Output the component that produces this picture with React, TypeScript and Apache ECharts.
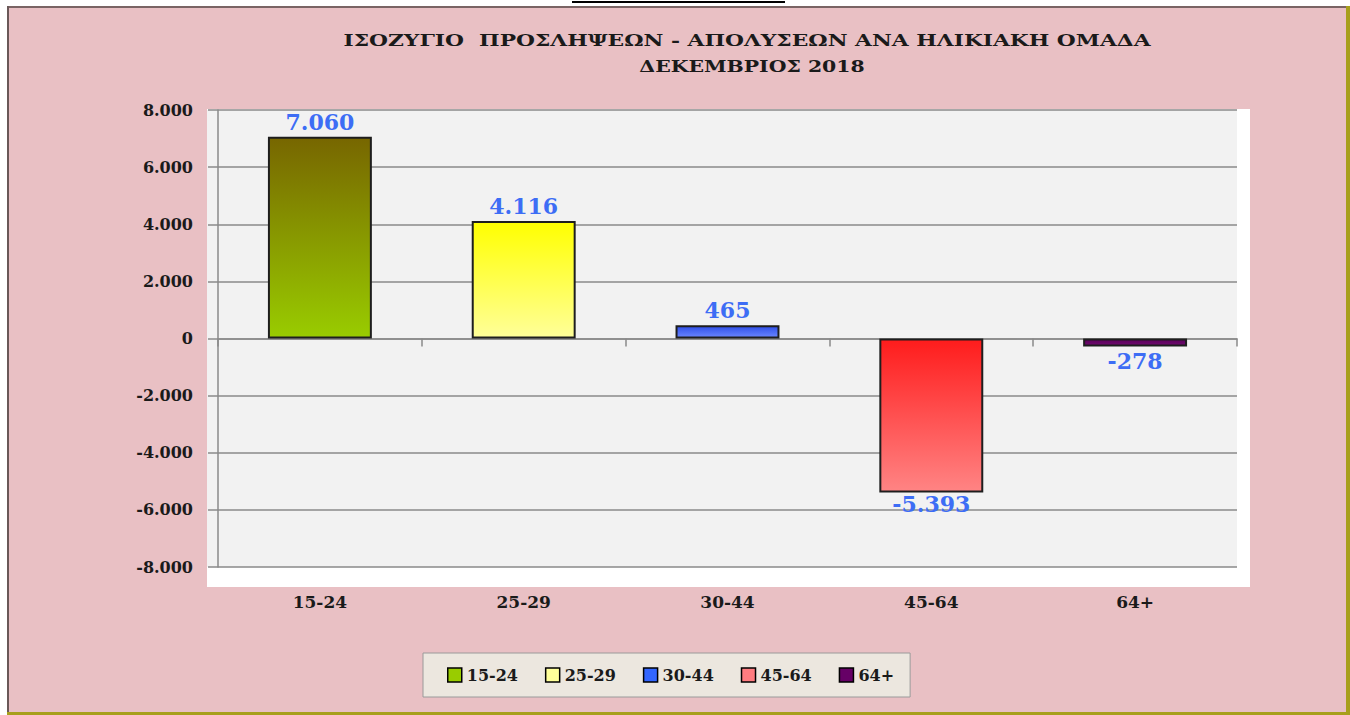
import React, { useEffect, useRef } from "react";
import * as echarts from "echarts";

const categories = ["15-24", "25-29", "30-44", "45-64", "64+"];
const values = [7060, 4116, 465, -5393, -278];
const yMin = -8000;
const yMax = 8000;
const yInterval = 2000;
const titleLine1 = "ΙΣΟΖΥΓΙΟ  ΠΡΟΣΛΗΨΕΩΝ - ΑΠΟΛΥΣΕΩΝ ΑΝΑ ΗΛΙΚΙΑΚΗ ΟΜΑΔΑ";
const titleLine2 = "ΔΕΚΕΜΒΡΙΟΣ 2018";
const barTopColors = ["#776600", "#ffff00", "#2f4fe8", "#ff1c1c", "#5a005a"];
const barBottomColors = ["#99cc00", "#ffff99", "#6a86ff", "#ff8484", "#6e0a6e"];
const legendColors = ["#99cc00", "#ffff99", "#3366ff", "#ff7c80", "#660066"];

const fmt = (v: number) => {
  const s = Math.abs(v).toString().replace(/\B(?=(\d{3})+(?!\d))/g, ".");
  return (v < 0 ? "-" : "") + s;
};

const FONT = "DejaVu Serif";
const GRID_TOP = 110;
const GRID_HEIGHT = 457;

export default function App() {
  const ref = useRef<HTMLDivElement>(null);
  useEffect(() => {
    if (!ref.current) return;
    const chart = echarts.init(ref.current, null, { renderer: "svg" });
    const series = categories.map((c, i) => ({
      name: c,
      type: "bar",
      stack: "all",
      barWidth: "51%",
      xAxisIndex: 0,
      data: values.map((v, j) =>
        j === i
          ? {
              value: v,
              label: {
                position: v >= 0 ? "top" : "bottom",
                distance: v < -1000 ? 0 : 4,
              },
            }
          : "-"
      ),
      itemStyle: {
        color: new echarts.graphic.LinearGradient(0, 0, 0, 1, [
          { offset: 0, color: barTopColors[i] },
          { offset: 1, color: barBottomColors[i] },
        ]),
        borderColor: "#1e1e1e",
        borderWidth: 2,
      },
      label: {
        show: true,
        formatter: (p: any) => fmt(p.value),
        color: "#3d6df5",
        fontFamily: FONT,
        fontWeight: "bold",
        fontSize: 22,
      },
    }));

    const zeroOffset = -(GRID_HEIGHT * (yMax - 0)) / (yMax - yMin);

    chart.setOption({
      animation: false,
      backgroundColor: "#ffffff",
      graphic: [
        { type: "line", z: -20, shape: { x1: 572, y1: 2, x2: 785, y2: 2 }, style: { stroke: "#000", lineWidth: 2 } },
        { type: "rect", z: -20, shape: { x: 8, y: 7, width: 1339, height: 706 }, style: { fill: "#e9c0c4" } },
        { type: "rect", z: -19, shape: { x: 8, y: 6, width: 1339, height: 2 }, style: { fill: "#7a6464" } },
        { type: "rect", z: -19, shape: { x: 7, y: 6, width: 2, height: 707 }, style: { fill: "#6a5858" } },
        { type: "rect", z: -19, shape: { x: 1346, y: 6, width: 4, height: 709 }, style: { fill: "#a89f1c" } },
        { type: "rect", z: -19, shape: { x: 7, y: 712, width: 1343, height: 3 }, style: { fill: "#a89f1c" } },
        { type: "rect", z: -18, shape: { x: 207, y: 109, width: 1043, height: 478 }, style: { fill: "#ffffff" } },
        { type: "rect", z: -17, shape: { x: 207, y: 110, width: 1030, height: 457 }, style: { fill: "#f2f2f2" } },
        {
          type: "text",
          x: 747,
          y: 40,
          scaleX: 1.28,
          style: { text: titleLine1, textAlign: "center", textVerticalAlign: "middle", font: `bold 17px "${FONT}"`, fill: "#1a1a1a" },
        },
        {
          type: "text",
          x: 752,
          y: 66,
          scaleX: 1.2,
          style: { text: titleLine2, textAlign: "center", textVerticalAlign: "middle", font: `bold 17px "${FONT}"`, fill: "#1a1a1a" },
        },
      ],
      grid: { left: 218, right: 113, top: GRID_TOP, height: GRID_HEIGHT, containLabel: false },
      legend: {
        left: 423,
        top: 653,
        orient: "horizontal",
        icon: "rect",
        itemWidth: 14,
        itemHeight: 14,
        itemGap: 27,
        padding: [14, 16, 14, 24],
        backgroundColor: "#ece7df",
        borderColor: "#9a9a9a",
        borderWidth: 1,
        textStyle: { fontFamily: FONT, fontWeight: "bold", fontSize: 16, color: "#1a1a1a" },
        data: categories.map((c, i) => ({
          name: c,
          itemStyle: { color: legendColors[i], borderColor: "#000", borderWidth: 1.5 },
        })),
      },
      xAxis: [
        {
          type: "category",
          data: categories,
          position: "bottom",
          axisLine: { show: false, onZero: false },
          axisTick: { show: false },
          splitLine: { show: false },
          axisLabel: { margin: 26, fontFamily: FONT, fontWeight: "bold", fontSize: 17, color: "#1a1a1a" },
        },
        {
          type: "category",
          data: categories,
          position: "top",
          offset: zeroOffset,
          axisLine: { show: true, onZero: false, lineStyle: { color: "#8a8a8a", width: 1.5 } },
          axisTick: { show: true, inside: true, length: 8, lineStyle: { color: "#8a8a8a", width: 1.5 } },
          axisLabel: { show: false },
          splitLine: { show: false },
        },
      ],
      yAxis: {
        type: "value",
        min: yMin,
        max: yMax,
        interval: yInterval,
        axisLine: { show: true, lineStyle: { color: "#8a8a8a", width: 1.5 } },
        axisTick: { show: true, length: 10, lineStyle: { color: "#8a8a8a", width: 1.5 } },
        splitLine: { show: true, lineStyle: { color: "#8a8a8a", width: 1.5 } },
        axisLabel: { margin: 25, fontFamily: FONT, fontWeight: "bold", fontSize: 16, color: "#1a1a1a", formatter: (v: number) => fmt(v) },
      },
      series,
    });
    return () => chart.dispose();
  }, []);
  return <div ref={ref} style={{ position: "absolute", left: 0, top: 0, width: 1350, height: 715 }} />;
}
